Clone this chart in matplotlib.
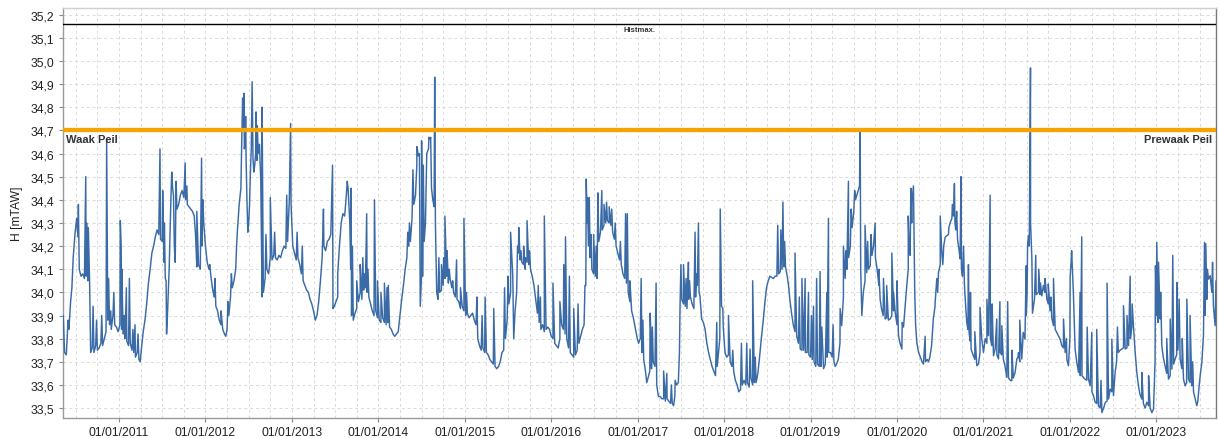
import matplotlib
matplotlib.use("Agg")
import matplotlib.pyplot as plt
from matplotlib.ticker import MultipleLocator, FuncFormatter, FixedLocator
import numpy as np

plt.rcParams["font.family"] = ["Liberation Sans", "DejaVu Sans"]

LINE = "#3a6ba6"; ORANGE = "#f5a300"; GRID = "#dadada"; INK = "#222222"

# water level H [mTAW]: (decimal year, level)
# smooth seasonal course + the short peaks riding on it, per period
base_2010_2013 = [
    (2010.355, 33.90), (2010.37, 33.74), (2010.39, 33.73), (2010.40, 33.80), (2010.41, 33.88),
    (2010.42, 33.84), (2010.44, 33.96), (2010.455, 34.02), (2010.47, 34.15), (2010.49, 34.25),
    (2010.51, 34.32), (2010.525, 34.24), (2010.54, 34.10), (2010.56, 34.07), (2010.58, 34.08),
    (2010.60, 34.06), (2010.62, 34.07), (2010.64, 34.05), (2010.66, 34.04), (2010.672, 33.74),
    (2010.69, 33.76), (2010.71, 33.74), (2010.73, 33.77), (2010.75, 33.75), (2010.77, 33.76),
    (2010.79, 33.78), (2010.81, 33.77), (2010.83, 33.80), (2010.85, 33.83), (2010.87, 33.88),
    (2010.89, 33.86), (2010.91, 33.84), (2010.93, 33.90), (2010.95, 33.86), (2010.97, 33.85),
    (2010.99, 33.83), (2011.01, 33.86), (2011.03, 33.84), (2011.05, 33.82), (2011.07, 33.80),
    (2011.09, 33.79), (2011.11, 33.77), (2011.13, 33.78), (2011.15, 33.75), (2011.17, 33.74),
    (2011.19, 33.72), (2011.21, 33.74), (2011.23, 33.71), (2011.245, 33.70), (2011.26, 33.76),
    (2011.28, 33.83), (2011.30, 33.88), (2011.32, 33.95), (2011.34, 34.04), (2011.36, 34.10),
    (2011.38, 34.17), (2011.40, 34.20), (2011.42, 34.24), (2011.44, 34.27), (2011.46, 34.25),
    (2011.48, 34.23), (2011.50, 34.22), (2011.52, 34.13), (2011.535, 34.06), (2011.55, 33.82),
    (2011.56, 33.90), (2011.58, 34.10), (2011.60, 34.40), (2011.62, 34.45), (2011.64, 34.20),
    (2011.65, 34.13), (2011.67, 34.36), (2011.69, 34.38), (2011.71, 34.42), (2011.73, 34.44),
    (2011.75, 34.41), (2011.77, 34.40), (2011.79, 34.38), (2011.81, 34.37), (2011.83, 34.36),
    (2011.85, 34.35), (2011.87, 34.33), (2011.885, 34.25), (2011.90, 34.11), (2011.92, 34.12),
    (2011.94, 34.10), (2011.96, 34.20), (2011.98, 34.30), (2012.00, 34.20), (2012.02, 34.13),
    (2012.04, 34.10), (2012.06, 34.08), (2012.08, 34.02), (2012.10, 33.98), (2012.12, 33.94),
    (2012.14, 33.92), (2012.16, 33.88), (2012.18, 33.86), (2012.20, 33.84), (2012.22, 33.82),
    (2012.235, 33.81), (2012.25, 33.84), (2012.27, 33.90), (2012.29, 33.98), (2012.31, 34.02),
    (2012.33, 34.05), (2012.35, 34.10), (2012.37, 34.27), (2012.39, 34.38), (2012.41, 34.45),
    (2012.42, 34.66), (2012.435, 34.70), (2012.45, 34.62), (2012.46, 34.66), (2012.47, 34.58),
    (2012.48, 34.40), (2012.49, 34.26), (2012.50, 34.30), (2012.51, 34.38), (2012.52, 34.52),
    (2012.53, 34.62), (2012.55, 34.58), (2012.56, 34.52), (2012.57, 34.55), (2012.58, 34.60),
    (2012.595, 34.57), (2012.61, 34.60), (2012.625, 34.64), (2012.64, 34.48), (2012.655, 33.98),
    (2012.67, 34.00), (2012.69, 34.06), (2012.71, 34.10), (2012.73, 34.08), (2012.75, 34.15),
    (2012.77, 34.14), (2012.79, 34.16), (2012.81, 34.15), (2012.83, 34.14), (2012.85, 34.16),
    (2012.87, 34.15), (2012.89, 34.18), (2012.91, 34.20), (2012.93, 34.19), (2012.95, 34.22),
    (2012.97, 34.40), (2012.99, 34.38), (2013.01, 34.20), (2013.03, 34.17), (2013.05, 34.14),
    (2013.07, 34.15), (2013.09, 34.12), (2013.11, 34.08), (2013.13, 34.05), (2013.15, 34.03),
    (2013.17, 34.01), (2013.19, 34.00), (2013.21, 33.97), (2013.23, 33.95), (2013.25, 33.92),
    (2013.27, 33.88), (2013.29, 33.90), (2013.31, 33.96), (2013.33, 34.05), (2013.35, 34.15),
    (2013.37, 34.20), (2013.39, 34.18), (2013.41, 34.22), (2013.43, 34.23), (2013.45, 34.25),
    (2013.475, 33.93), (2013.49, 33.94), (2013.51, 33.96), (2013.53, 33.98), (2013.55, 34.20),
    (2013.57, 34.30), (2013.59, 34.34), (2013.61, 34.33), (2013.63, 34.42), (2013.65, 34.45),
    (2013.67, 34.30),
]
peaks_2010_2013 = [
    (2010.53, 34.38), (2010.615, 34.50), (2010.625, 34.30), (2010.63, 34.16), (2010.645, 34.28),
    (2010.655, 34.12), (2010.70, 33.94), (2010.74, 33.88), (2010.80, 33.90), (2010.857, 34.66),
    (2010.88, 34.06), (2010.905, 33.92), (2010.94, 34.00), (2011.015, 34.31), (2011.025, 34.20),
    (2011.035, 34.10), (2011.04, 33.95), (2011.06, 33.90), (2011.085, 34.02), (2011.12, 34.06),
    (2011.16, 33.84), (2011.185, 33.86), (2011.22, 33.82), (2011.474, 34.62), (2011.505, 34.44),
    (2011.525, 34.30), (2011.545, 34.05), (2011.61, 34.52), (2011.63, 34.42), (2011.66, 34.48),
    (2011.765, 34.56), (2011.785, 34.46), (2011.90, 34.35), (2011.955, 34.58), (2011.97, 34.40),
    (2012.05, 34.12), (2012.11, 34.06), (2012.18, 33.92), (2012.26, 33.96), (2012.30, 34.08),
    (2012.36, 34.20), (2012.43, 34.84), (2012.445, 34.86), (2012.465, 34.76), (2012.54, 34.91),
    (2012.585, 34.78), (2012.60, 34.72), (2012.655, 34.80), (2012.70, 34.25), (2012.75, 34.41),
    (2012.80, 34.26), (2012.94, 34.42), (2012.985, 34.73), (2013.06, 34.26), (2013.12, 34.20),
    (2013.365, 34.36), (2013.47, 34.55), (2013.53, 34.08), (2013.64, 34.48),
]

base_2013_2017 = [
    (2013.68, 34.10), (2013.69, 33.90), (2013.71, 33.88), (2013.73, 33.91), (2013.75, 33.93),
    (2013.77, 33.96), (2013.79, 34.00), (2013.81, 33.97), (2013.83, 34.01), (2013.85, 34.02),
    (2013.87, 34.00), (2013.89, 33.98), (2013.91, 33.95), (2013.93, 33.92), (2013.95, 33.90),
    (2013.97, 33.92), (2013.99, 33.89), (2014.01, 33.88), (2014.03, 33.87), (2014.05, 33.89),
    (2014.07, 33.87), (2014.09, 33.86), (2014.11, 33.87), (2014.13, 33.85), (2014.15, 33.84),
    (2014.17, 33.82), (2014.19, 33.81), (2014.21, 33.82), (2014.23, 33.83), (2014.25, 33.90),
    (2014.27, 33.97), (2014.29, 34.03), (2014.31, 34.10), (2014.33, 34.15), (2014.35, 34.20),
    (2014.37, 34.22), (2014.39, 34.32), (2014.41, 34.38), (2014.43, 34.42), (2014.445, 34.55),
    (2014.46, 34.59), (2014.475, 34.60), (2014.485, 33.94), (2014.50, 34.08), (2014.515, 34.07),
    (2014.53, 34.22), (2014.545, 34.30), (2014.56, 34.60), (2014.58, 34.62), (2014.60, 34.66),
    (2014.615, 34.45), (2014.63, 34.40), (2014.645, 34.37), (2014.66, 34.30), (2014.675, 34.00),
    (2014.69, 33.97), (2014.71, 34.00), (2014.73, 34.01), (2014.75, 34.03), (2014.77, 34.06),
    (2014.79, 34.07), (2014.81, 34.04), (2014.83, 34.06), (2014.85, 34.02), (2014.87, 34.00),
    (2014.89, 33.98), (2014.91, 33.97), (2014.93, 33.96), (2014.95, 33.93), (2014.97, 33.94),
    (2014.99, 33.92), (2015.01, 33.90), (2015.03, 33.91), (2015.05, 33.89), (2015.07, 33.90),
    (2015.09, 33.91), (2015.11, 33.88), (2015.13, 33.86), (2015.15, 33.80), (2015.17, 33.77),
    (2015.19, 33.75), (2015.21, 33.76), (2015.23, 33.74), (2015.25, 33.74), (2015.27, 33.73),
    (2015.29, 33.71), (2015.31, 33.70), (2015.33, 33.69), (2015.35, 33.68), (2015.37, 33.67),
    (2015.39, 33.68), (2015.41, 33.70), (2015.43, 33.74), (2015.45, 33.75), (2015.47, 33.80),
    (2015.49, 33.88), (2015.51, 33.95), (2015.53, 34.00), (2015.555, 34.07), (2015.566, 33.80),
    (2015.58, 33.91), (2015.60, 34.00), (2015.62, 34.17), (2015.64, 34.14), (2015.66, 34.13),
    (2015.68, 34.12), (2015.70, 34.10), (2015.72, 34.13), (2015.74, 34.12), (2015.76, 34.10),
    (2015.78, 34.07), (2015.80, 34.03), (2015.82, 33.97), (2015.84, 33.91), (2015.86, 33.87),
    (2015.88, 33.84), (2015.90, 33.86), (2015.92, 33.83), (2015.94, 33.84), (2015.96, 33.85),
    (2015.98, 33.84), (2016.00, 33.81), (2016.02, 33.80), (2016.04, 33.78), (2016.06, 33.77),
    (2016.08, 33.76), (2016.10, 33.80), (2016.12, 33.86), (2016.14, 33.84), (2016.16, 33.82),
    (2016.18, 33.80), (2016.20, 33.76), (2016.22, 33.74), (2016.24, 33.73), (2016.26, 33.72),
    (2016.28, 33.73), (2016.30, 33.75), (2016.32, 33.78), (2016.34, 33.81), (2016.36, 33.84),
    (2016.38, 33.86), (2016.40, 34.03), (2016.415, 34.30), (2016.43, 34.20), (2016.45, 34.15),
    (2016.47, 34.10), (2016.49, 34.08), (2016.51, 34.07), (2016.53, 34.06), (2016.55, 34.22),
    (2016.57, 34.26), (2016.59, 34.27), (2016.61, 34.29), (2016.63, 34.30), (2016.65, 34.31),
    (2016.67, 34.30), (2016.69, 34.29), (2016.71, 34.26), (2016.73, 34.23), (2016.75, 34.20),
    (2016.77, 34.17), (2016.79, 34.14), (2016.81, 34.12), (2016.83, 34.08), (2016.85, 34.06),
    (2016.87, 34.04), (2016.89, 34.00), (2016.91, 33.96), (2016.93, 33.92), (2016.95, 33.89),
    (2016.97, 33.85), (2016.99, 33.81), (2017.01, 33.78),
]
peaks_2013_2017 = [
    (2013.685, 34.45), (2013.70, 34.20), (2013.75, 34.05), (2013.79, 34.12), (2013.82, 34.15),
    (2013.84, 34.08), (2013.865, 34.34), (2013.88, 34.10), (2013.955, 34.40), (2013.99, 34.05),
    (2014.03, 34.00), (2014.07, 34.04), (2014.10, 34.02), (2014.115, 34.03), (2014.34, 34.26),
    (2014.36, 34.30), (2014.40, 34.53), (2014.445, 34.63), (2014.455, 34.61), (2014.50, 34.655),
    (2014.52, 34.55), (2014.585, 34.67), (2014.605, 34.67), (2014.652, 34.93), (2014.70, 34.15),
    (2014.73, 34.12), (2014.755, 34.15), (2014.77, 34.33), (2014.795, 34.18), (2014.82, 34.10),
    (2014.86, 34.05), (2014.905, 34.14), (2014.95, 34.02), (2014.99, 34.32), (2015.02, 34.00),
    (2015.14, 33.98), (2015.20, 33.90), (2015.235, 33.98), (2015.335, 33.93), (2015.46, 34.02),
    (2015.50, 34.07), (2015.53, 34.26), (2015.55, 34.10), (2015.61, 34.20), (2015.625, 34.28),
    (2015.65, 34.18), (2015.68, 34.20), (2015.70, 34.15), (2015.72, 34.31), (2015.75, 34.18),
    (2015.85, 34.03), (2015.875, 33.98), (2015.92, 34.33), (2015.935, 33.95), (2016.02, 34.04),
    (2016.10, 33.96), (2016.145, 34.12), (2016.165, 34.24), (2016.21, 34.07), (2016.26, 33.93),
    (2016.31, 33.95), (2016.39, 34.03), (2016.405, 34.49), (2016.42, 34.41), (2016.44, 34.41),
    (2016.46, 34.25), (2016.49, 34.25), (2016.52, 34.20), (2016.54, 34.43), (2016.585, 34.44),
    (2016.61, 34.38), (2016.64, 34.39), (2016.67, 34.37), (2016.70, 34.36), (2016.74, 34.30),
    (2016.80, 34.22), (2016.86, 34.34), (2016.88, 34.34), (2016.91, 34.05),
]

base_2017_2020 = [
    (2017.03, 33.80), (2017.05, 33.74), (2017.07, 33.71), (2017.09, 33.66), (2017.105, 33.61),
    (2017.12, 33.63), (2017.14, 33.66), (2017.16, 33.67), (2017.18, 33.70), (2017.20, 33.68),
    (2017.22, 33.60), (2017.24, 33.55), (2017.26, 33.55), (2017.28, 33.54), (2017.30, 33.54),
    (2017.32, 33.53), (2017.34, 33.54), (2017.36, 33.53), (2017.38, 33.52), (2017.40, 33.52),
    (2017.415, 33.51), (2017.43, 33.55), (2017.45, 33.60), (2017.47, 33.61), (2017.483, 33.74),
    (2017.49, 33.94), (2017.51, 33.97), (2017.53, 33.95), (2017.55, 33.94), (2017.57, 33.93),
    (2017.59, 33.97), (2017.61, 33.98), (2017.63, 33.95), (2017.65, 33.93), (2017.67, 33.98),
    (2017.69, 34.03), (2017.71, 34.00), (2017.72, 33.985), (2017.74, 33.885), (2017.76, 33.87),
    (2017.78, 33.84), (2017.80, 33.78), (2017.82, 33.74), (2017.84, 33.71), (2017.86, 33.68),
    (2017.88, 33.66), (2017.90, 33.64), (2017.92, 33.68), (2017.935, 33.74), (2017.95, 33.80),
    (2017.97, 33.94), (2017.99, 33.85), (2018.01, 33.74), (2018.03, 33.72), (2018.05, 33.73),
    (2018.07, 33.70), (2018.09, 33.68), (2018.11, 33.66), (2018.13, 33.62), (2018.15, 33.60),
    (2018.17, 33.57), (2018.19, 33.58), (2018.21, 33.60), (2018.23, 33.62), (2018.25, 33.60),
    (2018.27, 33.61), (2018.29, 33.59), (2018.31, 33.63), (2018.33, 33.60), (2018.35, 33.61),
    (2018.37, 33.61), (2018.39, 33.65), (2018.41, 33.72), (2018.43, 33.80), (2018.45, 33.87),
    (2018.47, 33.95), (2018.49, 34.02), (2018.51, 34.05), (2018.53, 34.07), (2018.55, 34.065),
    (2018.57, 34.06), (2018.59, 34.07), (2018.61, 34.07), (2018.63, 34.08), (2018.65, 34.09),
    (2018.67, 34.10), (2018.69, 34.11), (2018.71, 34.11), (2018.73, 34.07), (2018.745, 34.03),
    (2018.76, 33.97), (2018.78, 33.91), (2018.80, 33.86), (2018.82, 33.83), (2018.84, 33.81),
    (2018.86, 33.78), (2018.88, 33.755), (2018.90, 33.75), (2018.92, 33.75), (2018.94, 33.74),
    (2018.96, 33.74), (2018.98, 33.73), (2019.00, 33.72), (2019.02, 33.71), (2019.04, 33.70),
    (2019.06, 33.68), (2019.08, 33.69), (2019.10, 33.68), (2019.12, 33.68), (2019.15, 33.67),
    (2019.17, 33.69), (2019.19, 33.72), (2019.21, 33.74), (2019.23, 33.74), (2019.25, 33.72),
    (2019.27, 33.70), (2019.285, 33.68), (2019.30, 33.69), (2019.32, 33.71), (2019.34, 33.78),
    (2019.36, 33.856), (2019.38, 33.98), (2019.40, 34.06), (2019.42, 34.10), (2019.44, 34.15),
    (2019.46, 34.20), (2019.48, 34.28), (2019.50, 34.35), (2019.52, 34.40), (2019.535, 34.42),
    (2019.55, 34.44), (2019.566, 34.46), (2019.58, 34.10), (2019.593, 33.90), (2019.61, 34.00),
    (2019.63, 34.05), (2019.65, 34.085), (2019.67, 34.10), (2019.69, 34.115), (2019.71, 34.16),
    (2019.728, 34.20), (2019.75, 34.15), (2019.77, 34.10), (2019.79, 34.03), (2019.805, 33.97),
    (2019.82, 33.93), (2019.84, 33.90), (2019.863, 33.885), (2019.88, 33.89), (2019.90, 33.88),
    (2019.92, 33.885), (2019.94, 33.90), (2019.96, 33.92), (2019.98, 33.91), (2020.00, 33.86),
    (2020.017, 33.813), (2020.035, 33.78), (2020.056, 33.755), (2020.075, 33.85), (2020.094, 33.94),
    (2020.113, 34.03), (2020.13, 34.10), (2020.152, 34.16), (2020.17, 34.30), (2020.19, 34.46),
    (2020.205, 34.00), (2020.215, 33.86), (2020.23, 33.78), (2020.25, 33.74), (2020.27, 33.72),
    (2020.29, 33.70), (2020.306, 33.69), (2020.33, 33.70), (2020.35, 33.71),
]
peaks_2017_2020 = [
    (2017.04, 34.06), (2017.06, 33.88), (2017.144, 33.91), (2017.155, 33.80), (2017.17, 33.85),
    (2017.213, 34.04), (2017.30, 33.66), (2017.337, 33.65), (2017.39, 33.60), (2017.433, 33.62),
    (2017.50, 34.12), (2017.53, 34.12), (2017.56, 34.06), (2017.587, 34.13), (2017.60, 34.05),
    (2017.664, 34.26), (2017.68, 34.08), (2017.703, 34.30), (2017.915, 33.87), (2017.955, 34.36),
    (2017.985, 33.93), (2018.05, 33.90), (2018.10, 33.75), (2018.20, 33.78), (2018.262, 33.78),
    (2018.30, 33.755), (2018.33, 34.05), (2018.36, 33.72), (2018.62, 34.29), (2018.656, 34.27),
    (2018.68, 34.39), (2018.70, 34.22), (2018.82, 34.17), (2018.87, 33.98), (2018.90, 34.06),
    (2018.937, 34.06), (2018.976, 34.00), (2019.01, 33.90), (2019.034, 33.94), (2019.07, 34.06),
    (2019.11, 34.09), (2019.13, 33.85), (2019.188, 34.00), (2019.207, 34.32), (2019.26, 33.86),
    (2019.342, 33.93), (2019.38, 34.20), (2019.41, 34.18), (2019.438, 34.48), (2019.47, 34.36),
    (2019.51, 34.44), (2019.574, 34.70), (2019.63, 34.29), (2019.66, 34.22), (2019.70, 34.25),
    (2019.747, 34.30), (2019.79, 34.10), (2019.843, 34.06), (2019.88, 34.03), (2019.94, 34.17),
    (2019.96, 34.00), (2020.00, 34.05), (2020.06, 33.87), (2020.13, 34.33), (2020.14, 34.20),
    (2020.16, 34.45), (2020.175, 34.40), (2020.325, 33.81),
]

base_2020_2023 = [
    (2020.364, 33.70), (2020.38, 33.72), (2020.40, 33.77), (2020.42, 33.885), (2020.44, 33.94),
    (2020.46, 34.06), (2020.48, 34.087), (2020.50, 34.12), (2020.518, 34.17), (2020.54, 34.20),
    (2020.557, 34.238), (2020.575, 34.245), (2020.595, 34.25), (2020.614, 34.30), (2020.635, 34.32),
    (2020.653, 34.33), (2020.67, 34.30), (2020.68, 34.27), (2020.70, 34.23), (2020.715, 34.19),
    (2020.73, 34.145), (2020.745, 34.10), (2020.757, 34.07), (2020.78, 34.03), (2020.796, 33.928),
    (2020.807, 33.87), (2020.82, 33.84), (2020.834, 33.827), (2020.845, 33.79), (2020.857, 33.755),
    (2020.87, 33.74), (2020.884, 33.726), (2020.90, 33.71), (2020.923, 33.683), (2020.942, 33.69),
    (2020.96, 33.74), (2020.98, 33.80), (2021.00, 33.74), (2021.02, 33.80), (2021.04, 33.78),
    (2021.058, 33.813), (2021.08, 33.80), (2021.096, 33.77), (2021.116, 33.726), (2021.135, 33.755),
    (2021.155, 33.73), (2021.174, 33.712), (2021.193, 33.74), (2021.21, 33.73), (2021.23, 33.712),
    (2021.25, 33.68), (2021.27, 33.633), (2021.29, 33.63), (2021.31, 33.62), (2021.328, 33.618),
    (2021.345, 33.63), (2021.366, 33.654), (2021.386, 33.712), (2021.40, 33.72), (2021.42, 33.70),
    (2021.443, 33.712), (2021.46, 33.827), (2021.48, 33.798), (2021.495, 33.90), (2021.505, 34.00),
    (2021.52, 34.245), (2021.53, 34.20), (2021.545, 34.30), (2021.56, 34.145), (2021.567, 33.91),
    (2021.59, 33.971), (2021.61, 33.99), (2021.636, 34.00), (2021.655, 33.99), (2021.675, 33.985),
    (2021.694, 34.03), (2021.71, 34.00), (2021.733, 33.971), (2021.75, 33.95), (2021.77, 33.92),
    (2021.79, 33.89), (2021.81, 33.856), (2021.83, 33.84), (2021.848, 33.827), (2021.87, 33.81),
    (2021.887, 33.798), (2021.906, 33.77), (2021.925, 33.76), (2021.945, 33.74), (2021.965, 33.71),
    (2021.983, 33.683), (2022.00, 33.80), (2022.02, 34.18), (2022.04, 34.00), (2022.06, 33.755),
    (2022.08, 33.697), (2022.10, 33.654), (2022.12, 33.64), (2022.14, 33.64), (2022.16, 33.63),
    (2022.176, 33.625), (2022.195, 33.62), (2022.215, 33.625), (2022.234, 33.596), (2022.255, 33.57),
    (2022.273, 33.553), (2022.292, 33.525), (2022.31, 33.52), (2022.33, 33.51), (2022.35, 33.50),
    (2022.37, 33.48), (2022.39, 33.50), (2022.41, 33.525), (2022.43, 33.53), (2022.447, 33.539),
    (2022.466, 33.582), (2022.485, 33.57), (2022.504, 33.553), (2022.523, 33.654), (2022.54, 33.70),
    (2022.56, 33.74), (2022.58, 33.75), (2022.60, 33.755), (2022.62, 33.76), (2022.64, 33.755),
    (2022.66, 33.76), (2022.678, 33.77), (2022.70, 33.80), (2022.716, 33.85), (2022.735, 33.856),
    (2022.755, 33.74), (2022.774, 33.654), (2022.793, 33.596), (2022.81, 33.56), (2022.832, 33.539),
    (2022.85, 33.52), (2022.87, 33.50), (2022.89, 33.525), (2022.91, 33.51), (2022.928, 33.50),
    (2022.948, 33.48), (2022.967, 33.496), (2022.985, 33.70), (2023.00, 33.90), (2023.02, 33.87),
    (2023.044, 33.885), (2023.063, 33.77), (2023.08, 33.72), (2023.10, 33.683), (2023.12, 33.65),
    (2023.14, 33.625), (2023.16, 33.64), (2023.18, 33.668), (2023.20, 33.69), (2023.217, 33.712),
    (2023.235, 33.73), (2023.25, 33.75), (2023.275, 33.712), (2023.295, 33.67), (2023.314, 33.625),
    (2023.333, 33.596), (2023.35, 33.61), (2023.372, 33.625), (2023.39, 33.61), (2023.41, 33.596),
    (2023.43, 33.57), (2023.449, 33.539), (2023.468, 33.51), (2023.48, 33.53), (2023.495, 33.596),
    (2023.51, 33.65), (2023.526, 33.697), (2023.545, 33.813), (2023.565, 33.90), (2023.584, 33.97),
    (2023.603, 34.057), (2023.623, 34.072), (2023.642, 34.00), (2023.66, 33.942), (2023.68, 33.856),
    (2023.70, 33.827),
]
peaks_2020_2023 = [
    (2020.44, 33.95), (2020.47, 34.00), (2020.50, 34.33), (2020.53, 34.12), (2020.60, 34.28),
    (2020.64, 34.38), (2020.664, 34.47), (2020.69, 34.35), (2020.74, 34.50), (2020.77, 34.20),
    (2020.826, 34.12), (2020.85, 34.00), (2020.90, 33.83), (2020.96, 33.935), (2021.04, 33.97),
    (2021.077, 34.42), (2021.10, 33.95), (2021.154, 33.885), (2021.19, 33.96), (2021.212, 33.856),
    (2021.28, 33.96), (2021.33, 33.75), (2021.405, 33.74), (2021.42, 33.88), (2021.494, 34.115),
    (2021.51, 34.20), (2021.544, 34.97), (2021.605, 34.16), (2021.64, 34.10), (2021.66, 34.04),
    (2021.713, 34.06), (2021.75, 34.036), (2021.78, 33.98), (2021.81, 34.06), (2021.926, 33.885),
    (2021.96, 33.80), (2022.003, 34.07), (2022.014, 34.13), (2022.118, 34.00), (2022.137, 34.24),
    (2022.20, 33.85), (2022.253, 33.827), (2022.31, 33.84), (2022.36, 33.62), (2022.43, 34.04),
    (2022.485, 33.798), (2022.55, 33.85), (2022.62, 33.942), (2022.66, 33.90), (2022.697, 34.07),
    (2022.72, 33.95), (2022.832, 33.654), (2022.91, 33.64), (2022.99, 34.115), (2023.005, 34.216),
    (2023.025, 34.13), (2023.05, 34.00), (2023.12, 33.80), (2023.16, 33.885), (2023.19, 34.16),
    (2023.237, 34.043), (2023.264, 33.971), (2023.30, 33.80), (2023.353, 33.971), (2023.39, 33.90),
    (2023.42, 33.70), (2023.557, 34.216), (2023.572, 34.21), (2023.59, 34.10), (2023.65, 34.13),
    (2023.69, 34.05),
]

waak_peil = 34.70
hist_max = 35.16
years = list(range(2011, 2024))

# merge the seasonal course and the peaks into one time-ordered series
obs = (base_2010_2013 + peaks_2010_2013 + base_2013_2017 + peaks_2013_2017
       + base_2017_2020 + peaks_2017_2020 + base_2020_2023 + peaks_2020_2023)
obs.sort(key=lambda p: p[0])
t = np.array([p[0] for p in obs]); h = np.array([p[1] for p in obs])

fig = plt.figure(figsize=(12.19, 4.39), dpi=100)
ax = fig.add_axes([63 / 1219, 20 / 439, 1153 / 1219, 410 / 439])

ax.plot(t, h, color=LINE, lw=1.05, zorder=3)
ax.axhline(waak_peil, color=ORANGE, lw=3.1, zorder=4)
ax.axhline(hist_max, color="black", lw=1.0, zorder=4)

ax.text(0.003, 34.686, "Waak Peil", transform=ax.get_yaxis_transform(), ha="left", va="top",
        fontsize=8, fontweight="bold", color="#333333")
ax.text(0.997, 34.686, "Prewaak Peil", transform=ax.get_yaxis_transform(), ha="right", va="top",
        fontsize=8, fontweight="bold", color="#333333")
ax.text(0.5, 35.152, "Histmax.", transform=ax.get_yaxis_transform(), ha="center", va="top",
        fontsize=5.5, fontweight="bold", color="#333333")

ax.set_xlim(2010.352, 2023.69)
ax.set_ylim(33.457, 35.229)
ax.yaxis.set_major_locator(MultipleLocator(0.1))
ax.yaxis.set_major_formatter(FuncFormatter(lambda v, p: f"{v:.1f}".replace(".", ",")))
ax.xaxis.set_major_locator(FixedLocator(years))
ax.xaxis.set_major_formatter(FuncFormatter(lambda v, p: f"01/01/{int(round(v))}"))
ax.xaxis.set_minor_locator(MultipleLocator(0.25))

ax.grid(True, which="major", axis="both", color=GRID, lw=0.7, ls=(0, (3, 3)), zorder=0)
ax.grid(True, which="minor", axis="x", color=GRID, lw=0.7, ls=(0, (3, 3)), zorder=0)
ax.tick_params(which="major", length=3, width=0.8, color="#888888", labelsize=8.7,
               labelcolor=INK, pad=3)
ax.tick_params(which="minor", length=0)
ax.set_ylabel("H [mTAW]", fontsize=8.7, color=INK)
ax.yaxis.set_label_coords(-0.0345, 0.5)

for side, c in (("left", "#9a9a9a"), ("bottom", "#9a9a9a"), ("right", "#7a7a7a"), ("top", "#d0d0d0")):
    ax.spines[side].set_color(c); ax.spines[side].set_linewidth(1.0)

fig.savefig("out.png", dpi=100, facecolor="white")
